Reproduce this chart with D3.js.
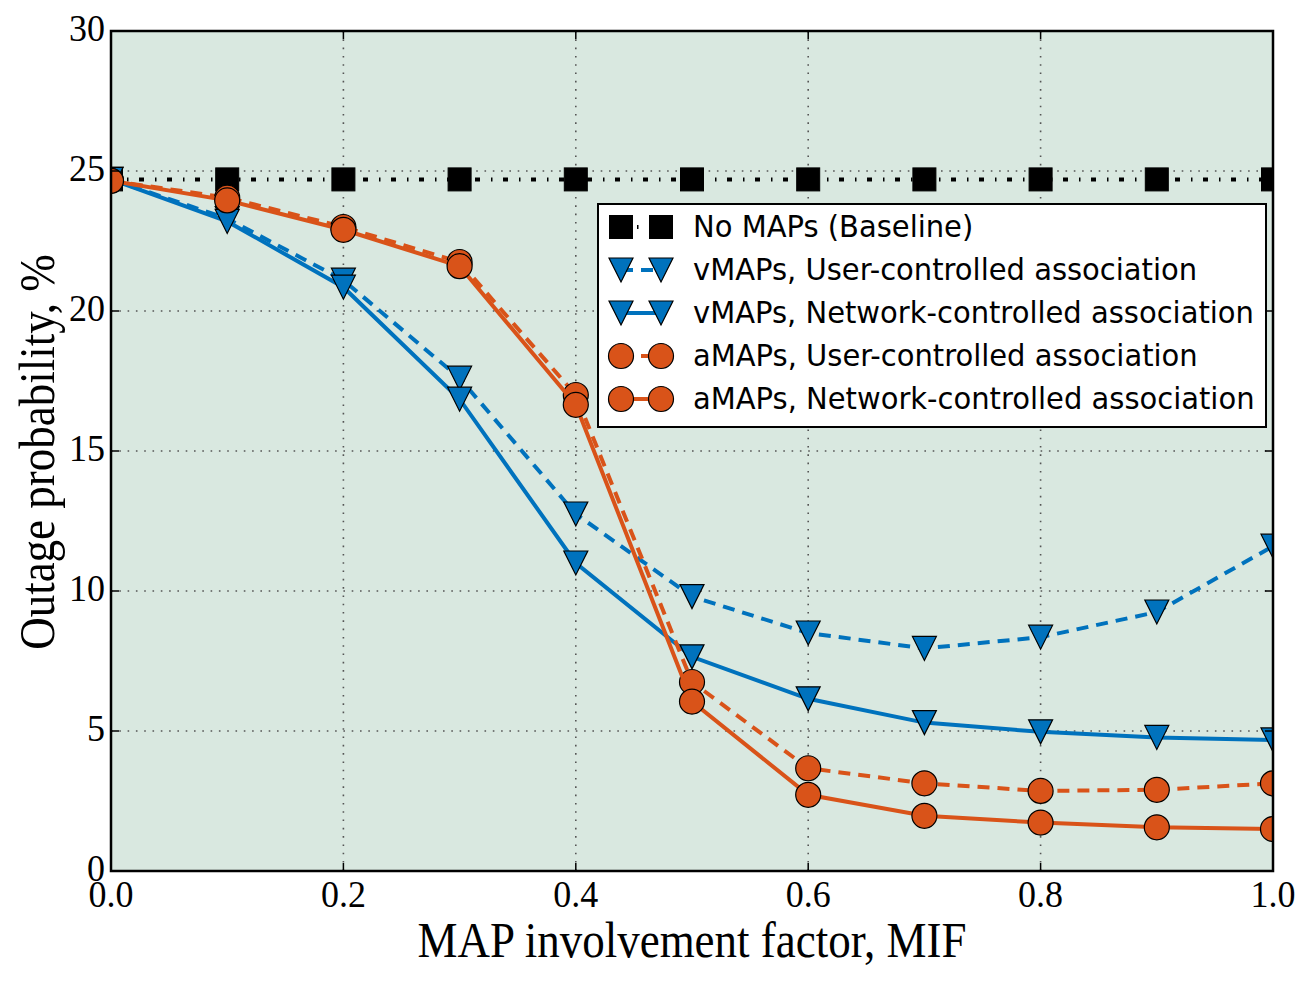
<!DOCTYPE html>
<html>
<head>
<meta charset="utf-8">
<script src="https://cdn.jsdelivr.net/npm/d3@7/dist/d3.min.js"></script>
<style>
    body { margin: 0; background: #fff; }
    svg { display: block; }
    .tick-label { font-family: "Liberation Serif", "Times New Roman", serif; font-size: 36px; fill: #000; }
    .axis-title { font-family: "Liberation Serif", "Times New Roman", serif; font-size: 45px; fill: #000; }
    .legend-text { font-family: "DejaVu Sans", sans-serif; font-size: 29px; fill: #000; }
</style>
</head>
<body>
<div id="chart"></div>
<script>
// MAP involvement factor (x values)
const MIF = [0.0, 0.1, 0.2, 0.3, 0.4, 0.5, 0.6, 0.7, 0.8, 0.9, 1.0];

// outage probability, %
const baseline = [24.7, 24.7, 24.7, 24.7, 24.7, 24.7, 24.7, 24.7, 24.7, 24.7, 24.7];
const vmapUser = [24.7, 23.3, 21.1, 17.6, 12.75, 9.8, 8.5, 7.95, 8.35, 9.25, 11.6];
const vmapNet  = [24.7, 23.2, 20.85, 16.85, 11.0, 7.65, 6.15, 5.3, 4.97, 4.77, 4.68];
const amapUser = [24.65, 24.05, 23.0, 21.75, 17.0, 6.75, 3.67, 3.13, 2.86, 2.9, 3.13];
const amapNet  = [24.65, 23.95, 22.9, 21.6, 16.65, 6.05, 2.72, 1.97, 1.73, 1.56, 1.5];

const seriesNames = [
    'No MAPs (Baseline)',
    'vMAPs, User-controlled association',
    'vMAPs, Network-controlled association',
    'aMAPs, User-controlled association',
    'aMAPs, Network-controlled association'
];

const xTicks = [0.0, 0.2, 0.4, 0.6, 0.8, 1.0];
const yTicks = [0, 5, 10, 15, 20, 25, 30];

(function () {
    'use strict';

    const W = 1309, H = 982;
    const plot = { left: 111, right: 1273, top: 31, bottom: 871 };

    const x = d3.scaleLinear().domain([0, 1]).range([plot.left, plot.right]);
    const y = d3.scaleLinear().domain([0, 30]).range([plot.bottom, plot.top]);

    const BLUE = '#0072BD', ORANGE = '#D95319';

    // line style + marker for each series, in draw order
    const styles = [
        { values: baseline, color: '#000', dash: '5,11,1.5,10.5', marker: 'square', width: 4 },
        { values: vmapUser, color: BLUE, dash: '12,8', marker: 'tri', width: 4 },
        { values: vmapNet, color: BLUE, dash: null, marker: 'tri', width: 4 },
        { values: amapUser, color: ORANGE, dash: '12,8', marker: 'circle', width: 4 },
        { values: amapNet, color: ORANGE, dash: null, marker: 'circle', width: 4 }
    ];

    const svg = d3.select('#chart').append('svg')
        .attr('width', W).attr('height', H);

    svg.append('defs').append('clipPath').attr('id', 'plot-clip')
        .append('rect')
        .attr('x', plot.left).attr('y', plot.top)
        .attr('width', plot.right - plot.left)
        .attr('height', plot.bottom - plot.top);

    // background
    svg.append('rect')
        .attr('x', plot.left).attr('y', plot.top)
        .attr('width', plot.right - plot.left)
        .attr('height', plot.bottom - plot.top)
        .attr('fill', '#d9e8e0');

    // dotted grid
    const grid = svg.append('g');
    xTicks.forEach(function (t) {
        grid.append('line')
            .attr('x1', x(t)).attr('x2', x(t))
            .attr('y1', plot.top).attr('y2', plot.bottom)
            .attr('stroke', '#555').attr('stroke-width', 1.6)
            .attr('stroke-dasharray', '1.6,6.7');
    });
    yTicks.forEach(function (t) {
        grid.append('line')
            .attr('x1', plot.left).attr('x2', plot.right)
            .attr('y1', y(t)).attr('y2', y(t))
            .attr('stroke', '#555').attr('stroke-width', 1.6)
            .attr('stroke-dasharray', '1.6,6.7');
    });

    function drawMarker(g, kind, cx, cy, color) {
        if (kind === 'square') {
            g.append('rect')
                .attr('x', cx - 11.5).attr('y', cy - 11.5)
                .attr('width', 23).attr('height', 23)
                .attr('fill', '#000').attr('stroke', '#000').attr('stroke-width', 1);
        } else if (kind === 'tri') {
            const s = 12;
            g.append('path')
                .attr('d', 'M' + (cx - s) + ',' + (cy - s) + 'L' + (cx + s) + ',' + (cy - s) +
                    'L' + cx + ',' + (cy + s) + 'Z')
                .attr('fill', color).attr('stroke', '#000').attr('stroke-width', 1.2);
        } else {
            g.append('circle')
                .attr('cx', cx).attr('cy', cy).attr('r', 12.5)
                .attr('fill', color).attr('stroke', '#000').attr('stroke-width', 1.2);
        }
    }

    const lineGen = d3.line()
        .x(function (d) { return x(d[0]); })
        .y(function (d) { return y(d[1]); });

    const data = svg.append('g').attr('clip-path', 'url(#plot-clip)');
    styles.forEach(function (s) {
        const pts = MIF.map(function (m, i) { return [m, s.values[i]]; });
        const g = data.append('g');
        g.append('path')
            .attr('d', lineGen(pts))
            .attr('fill', 'none')
            .attr('stroke', s.color)
            .attr('stroke-width', s.width)
            .attr('stroke-dasharray', s.dash);
        pts.forEach(function (p) {
            drawMarker(g, s.marker, x(p[0]), y(p[1]), s.color);
        });
    });

    // ticks (inward, all sides)
    const ticks = svg.append('g').attr('stroke', '#000').attr('stroke-width', 1.5);
    xTicks.forEach(function (t) {
        ticks.append('line').attr('x1', x(t)).attr('x2', x(t))
            .attr('y1', plot.bottom).attr('y2', plot.bottom - 8);
        ticks.append('line').attr('x1', x(t)).attr('x2', x(t))
            .attr('y1', plot.top).attr('y2', plot.top + 8);
    });
    yTicks.forEach(function (t) {
        ticks.append('line').attr('x1', plot.left).attr('x2', plot.left + 8)
            .attr('y1', y(t)).attr('y2', y(t));
        ticks.append('line').attr('x1', plot.right).attr('x2', plot.right - 8)
            .attr('y1', y(t)).attr('y2', y(t));
    });

    // frame
    svg.append('rect')
        .attr('x', plot.left).attr('y', plot.top)
        .attr('width', plot.right - plot.left)
        .attr('height', plot.bottom - plot.top)
        .attr('fill', 'none').attr('stroke', '#000').attr('stroke-width', 2.5);

    // tick labels (serif glyphs slightly taller in the original)
    xTicks.forEach(function (t) {
        svg.append('text').attr('class', 'tick-label')
            .attr('transform', 'translate(' + x(t) + ',' + (plot.bottom + 36) + ') scale(1,1.08)')
            .attr('text-anchor', 'middle')
            .text(t.toFixed(1));
    });
    yTicks.forEach(function (t) {
        svg.append('text').attr('class', 'tick-label')
            .attr('transform', 'translate(' + (plot.left - 6) + ',' + (y(t) + 10) + ') scale(1,1.08)')
            .attr('text-anchor', 'end')
            .text(t);
    });

    // axis titles
    svg.append('text').attr('class', 'axis-title')
        .attr('transform', 'translate(' + ((plot.left + plot.right) / 2) + ',957) scale(1,1.12)')
        .attr('text-anchor', 'middle')
        .text('MAP involvement factor, MIF');
    svg.append('text').attr('class', 'axis-title')
        .attr('transform', 'translate(54,452) rotate(-90) scale(1,1.14)')
        .attr('text-anchor', 'middle')
        .text('Outage probability, %');

    // legend
    const lg = svg.append('g');
    lg.append('rect')
        .attr('x', 598).attr('y', 204)
        .attr('width', 668).attr('height', 223)
        .attr('fill', '#fff').attr('stroke', '#000').attr('stroke-width', 2);
    const rowY = [227, 270, 313, 356, 399];
    styles.forEach(function (s, i) {
        const cy = rowY[i];
        lg.append('line')
            .attr('x1', 621).attr('x2', 661)
            .attr('y1', cy).attr('y2', cy)
            .attr('stroke', s.color).attr('stroke-width', s.width)
            .attr('stroke-dasharray', s.dash);
        drawMarker(lg, s.marker, 621, cy, s.color);
        drawMarker(lg, s.marker, 661, cy, s.color);
        lg.append('text').attr('class', 'legend-text')
            .attr('transform', 'translate(693,' + (cy + 10) + ') scale(1,1.05)')
            .text(seriesNames[i]);
    });
})();
</script>
</body>
</html>
